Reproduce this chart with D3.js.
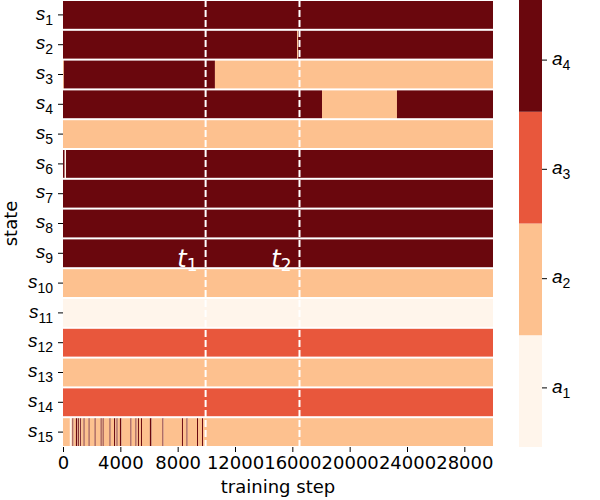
<!DOCTYPE html>
<html><head><meta charset="utf-8">
<script src="https://cdn.jsdelivr.net/npm/d3@7"></script>
<style>body{margin:0;background:#fff}svg{display:block;font-family:"DejaVu Sans",sans-serif}</style>
</head><body><svg id="c" width="600" height="500"></svg>
<script>
// ---- data ----
const stateIdx = ["1","2","3","4","5","6","7","8","9","10","11","12","13","14","15"];
const xTicks = [0,4000,8000,12000,16000,20000,24000,28000];
const actionIdx = ["1","2","3","4"];
const actionColors = ["#fff5eb","#fdc18f","#e8573c","#6a070d"];
const cbarTicks = [1.4, 2.133, 2.867, 3.6];
const maxStep = 30000;
const t1 = 9950, t2 = 16500;
// change points per state: [step from which action holds, action]
const s1 = [[0,4]];
const s2 = [[0,4],[16330,2],[16400,4]];
const s3 = [[0,2],[60,4],[10600,2]];
const s4 = [[0,4],[18070,2],[23300,4]];
const s5 = [[0,2]];
const s6 = [[0,4],[120,1],[210,4]];
const s7 = [[0,4]];
const s8 = [[0,4]];
const s9 = [[0,4]];
const s10 = [[0,2]];
const s11 = [[0,1]];
const s12 = [[0,3]];
const s13 = [[0,2]];
const s14 = [[0,3]];
const s15 = [[0,2],[480,1],[600,2],[660,4],[730,2],[900,4],[1010,2],[1060,4],[1130,2],[1200,4],[1270,2],
  [1440,4],[1510,2],[1790,4],[1860,2],[2210,4],[2280,2],[2630,4],[2700,2],[2770,4],[2840,2],
  [3250,4],[3320,2],[3560,4],[3650,2],[3740,4],[3810,2],[3970,4],[4080,2],[4710,4],[4780,2],
  [5060,4],[5130,2],[5230,4],[5300,2],[5440,4],[5510,2],[6060,4],[6180,2],[6940,4],[7010,2],
  [8300,4],[8370,2],[8620,4],[8690,2],[9350,4],[9420,2],[9700,4],[9770,2]];
const rows = [s1,s2,s3,s4,s5,s6,s7,s8,s9,s10,s11,s12,s13,s14,s15];

// ---- layout ----
const svg = d3.select("#c");
const L = 63, R = 493, T = 0, B = 447;
const x = d3.scaleLinear().domain([0, maxStep]).range([L, R]);
const y = d3.scaleBand().domain(stateIdx).range([T, B]);
const color = d3.scaleOrdinal().domain([1,2,3,4]).range(actionColors);

const g = svg.append("g");
rows.forEach((cp, i) => {
  const segs = cp.map((c, j) => ({s: c[0], e: j < cp.length - 1 ? cp[j+1][0] : maxStep, a: c[1]}));
  g.selectAll(null).data(segs).enter().append("rect")
    .attr("x", d => x(d.s)).attr("width", d => x(d.e) - x(d.s))
    .attr("y", y(stateIdx[i]) + 1).attr("height", y.bandwidth() - 2)
    .attr("fill", d => color(d.a));
});

// dashed lines
[t1, t2].forEach((t, k) => {
  svg.append("line").attr("x1", x(t)).attr("x2", x(t)).attr("y1", T).attr("y2", B)
    .attr("stroke", "#fff").attr("stroke-width", 2).attr("stroke-dasharray", "7,3");
  const tx = svg.append("text").attr("x", x(t) - 8).attr("y", 267).attr("text-anchor", "end")
    .attr("fill", "#fff").attr("font-size", 24).attr("font-style", "italic");
  tx.append("tspan").text("t");
  tx.append("tspan").attr("font-size", 17).attr("font-style", "normal").attr("dy", 4).text(String(k + 1));
});

// y axis
const ya = svg.append("g").attr("transform", `translate(${L},0)`)
  .call(d3.axisLeft(y).tickSize(5).tickPadding(4).tickFormat(""));
ya.select(".domain").remove();
ya.selectAll(".tick line").attr("stroke", "#000");
ya.selectAll(".tick").each(function(d) {
  const t = d3.select(this).append("text").attr("x", -10).attr("dy", "0.25em")
    .attr("text-anchor", "end").attr("fill", "#000").attr("font-size", 19);
  t.append("tspan").attr("font-style", "italic").text("s");
  t.append("tspan").attr("font-size", 14).attr("dy", 5).text(d);
});

// x axis
const xa = svg.append("g").attr("transform", `translate(0,${B})`)
  .call(d3.axisBottom(x).tickValues(xTicks).tickSize(5).tickPadding(4).tickFormat(d3.format("d")));
xa.select(".domain").remove();
xa.selectAll("text").attr("font-size", 18).attr("fill", "#000").attr("font-family", "DejaVu Sans");

svg.append("text").attr("x", (L + R) / 2).attr("y", 493).attr("text-anchor", "middle")
  .attr("font-size", 18).text("training step");
svg.append("text").attr("transform", `translate(17,${(T + B) / 2}) rotate(-90)`)
  .attr("text-anchor", "middle").attr("font-size", 18).text("state");

// colorbar
const cb = d3.scaleLinear().domain([1, 4]).range([B, T]);
const cx = 519, cw = 23;
svg.selectAll(null).data(actionColors).enter().append("rect")
  .attr("x", cx).attr("width", cw)
  .attr("y", (d, i) => cb(1 + (i + 1) * 0.75))
  .attr("height", (d, i) => cb(1 + i * 0.75) - cb(1 + (i + 1) * 0.75))
  .attr("fill", d => d);
const ca = svg.append("g").attr("transform", `translate(${cx + cw},0)`)
  .call(d3.axisRight(cb).tickValues(cbarTicks).tickSize(5).tickFormat(""));
ca.select(".domain").remove();
ca.selectAll(".tick").each(function(d, i) {
  const t = d3.select(this).append("text").attr("x", 10).attr("dy", "0.25em")
    .attr("fill", "#000").attr("font-size", 19);
  t.append("tspan").attr("font-style", "italic").text("a");
  t.append("tspan").attr("font-size", 14).attr("dy", 5).text(actionIdx[i]);
});
</script></body></html>
